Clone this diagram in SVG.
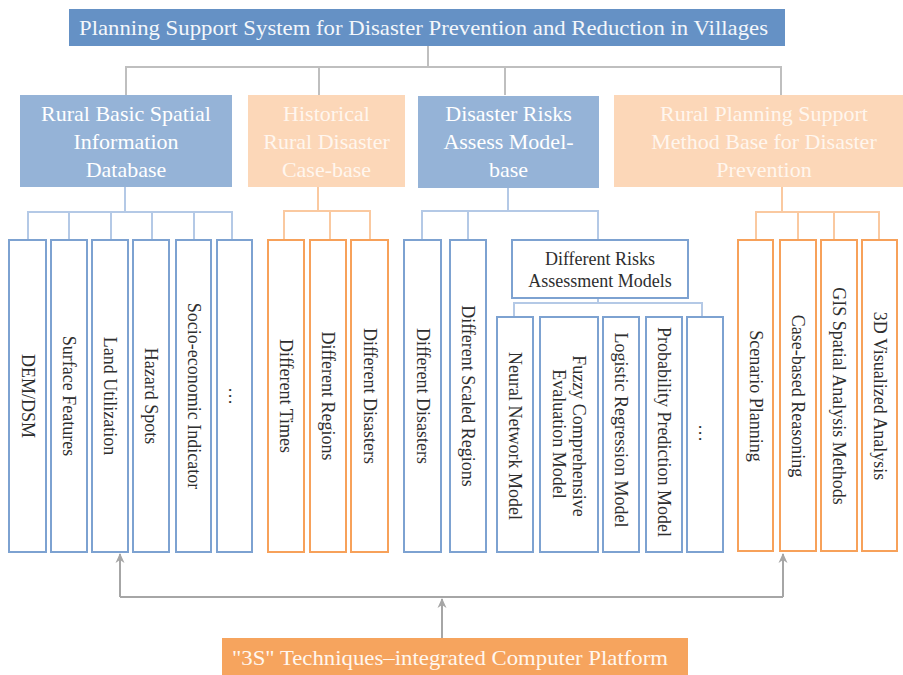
<svg xmlns="http://www.w3.org/2000/svg" width="903" height="675" viewBox="0 0 903 675" font-family="'Liberation Serif', 'Times New Roman', 'DejaVu Serif', serif">
<defs>
<marker id="arr" markerWidth="10" markerHeight="10" viewBox="0 0 10 10" refX="9" refY="5" orient="auto" markerUnits="userSpaceOnUse">
<path d="M0,0.5 L10,5 L0,9.5 L3,5 Z" fill="#A6A6A6"/>
</marker>
</defs>
<style>
.title{font-size:22px;fill:#F4F7FB;}
.cat{font-size:22px;fill:#FFFFFF;text-anchor:middle;}
.catp{font-size:22px;fill:#FFF6EE;text-anchor:middle;}
.leafb{fill:#FFFFFF;stroke:#7DA2D1;stroke-width:2;}
.leafo{fill:#FFFFFF;stroke:#F7A15A;stroke-width:2;}
.lt{font-size:18px;fill:#2E2E2E;text-anchor:middle;dominant-baseline:central;}
.cg{fill:none;stroke:#BFBFBF;stroke-width:2;}
.cb{fill:none;stroke:#B4C9E6;stroke-width:2;}
.co{fill:none;stroke:#FAC9A0;stroke-width:2;}
.ca{fill:none;stroke:#A6A6A6;stroke-width:2;}
</style>
<rect width="903" height="675" fill="#FFFFFF"/>

<g id="connectors">
<path class="cg" d="M428,46 V67 M126,95 V67 H781 V95 M319,67 V95 M505,67 V95"/>
<path class="cb" d="M125,187 V212 M28,240 V212 H232 V240 M69,212 V240 M111,212 V240 M152,212 V240 M194,212 V240"/>
<path class="co" d="M318,187 V211 M284,240 V211 H370 V240 M330,211 V240"/>
<path class="cb" d="M508,188 V211 M422,240 V211 H598 V240 M468,211 V240"/>
<path class="cb" d="M598,298 V303 M514,317 V303 H702 V317"/>
<path class="co" d="M782,187 V212 M756,240 V212 H879 V240 M798,212 V240 M834,212 V240"/>
<path class="ca" d="M442,638 V599" marker-end="url(#arr)"/>
<path class="ca" d="M120,597 H783"/>
<path class="ca" d="M120,597 V554" marker-end="url(#arr)"/>
<path class="ca" d="M783,597 V554" marker-end="url(#arr)"/>
</g>

<g id="title">
<rect x="69" y="9" width="716" height="37" fill="#6591C5"/>
<text class="title" x="79" y="35" textLength="689" lengthAdjust="spacingAndGlyphs">Planning Support System for Disaster Prevention and Reduction in Villages</text>
</g>

<g id="cat1">
<rect x="20" y="95" width="212" height="92" fill="#95B3D7"/>
<text class="cat" x="126" y="121">Rural Basic Spatial</text>
<text class="cat" x="126" y="149">Information</text>
<text class="cat" x="126" y="177">Database</text>
</g>
<g id="cat2">
<rect x="248" y="95" width="157" height="92" fill="#FCD7B8"/>
<text class="catp" x="326.5" y="121">Historical</text>
<text class="catp" x="326.5" y="149">Rural Disaster</text>
<text class="catp" x="326.5" y="177">Case-base</text>
</g>
<g id="cat3">
<rect x="418" y="96" width="181" height="92" fill="#95B3D7"/>
<text class="cat" x="508.5" y="121">Disaster Risks</text>
<text class="cat" x="508.5" y="149">Assess Model-</text>
<text class="cat" x="508.5" y="177">base</text>
</g>
<g id="cat4">
<rect x="614" y="95" width="300" height="92" fill="#FCD7B8"/>
<text class="catp" x="764" y="121">Rural Planning Support</text>
<text class="catp" x="764" y="149">Method Base for Disaster</text>
<text class="catp" x="764" y="177">Prevention</text>
</g>

<g id="leaf-dem"><rect class="leafb" x="9" y="240" width="37" height="312"/><text class="lt" transform="translate(27.5,396) rotate(90)">DEM/DSM</text></g>
<g id="leaf-surface"><rect class="leafb" x="51" y="240" width="36" height="312"/><text class="lt" transform="translate(69,396) rotate(90)">Surface Features</text></g>
<g id="leaf-land"><rect class="leafb" x="92" y="240" width="36" height="312"/><text class="lt" transform="translate(110,396) rotate(90)">Land Utilization</text></g>
<g id="leaf-hazard"><rect class="leafb" x="133" y="240" width="36" height="312"/><text class="lt" transform="translate(151,396) rotate(90)">Hazard Spots</text></g>
<g id="leaf-socio"><rect class="leafb" x="176" y="240" width="35" height="312"/><text class="lt" transform="translate(193.5,396) rotate(90)">Socio-economic Indicator</text></g>
<g id="leaf-etc1"><rect class="leafb" x="217" y="240" width="35" height="312"/><text class="lt" transform="translate(234.5,396) rotate(90)">…</text></g>

<g id="leaf-times"><rect class="leafo" x="268" y="240" width="36" height="312"/><text class="lt" transform="translate(286,396) rotate(90)">Different Times</text></g>
<g id="leaf-regions"><rect class="leafo" x="310" y="240" width="36" height="312"/><text class="lt" transform="translate(328,396) rotate(90)">Different Regions</text></g>
<g id="leaf-disasters"><rect class="leafo" x="351" y="240" width="37" height="312"/><text class="lt" transform="translate(369.5,396) rotate(90)">Different Disasters</text></g>

<g id="leaf-ddisasters"><rect class="leafb" x="404" y="240" width="37" height="312"/><text class="lt" transform="translate(422.5,396) rotate(90)">Different Disasters</text></g>
<g id="leaf-scaled"><rect class="leafb" x="450" y="240" width="36" height="312"/><text class="lt" transform="translate(468,396) rotate(90)">Different Scaled Regions</text></g>
<g id="models">
<rect class="leafb" x="512" y="240" width="176" height="58"/>
<text class="lt" x="600" y="259">Different Risks</text>
<text class="lt" x="600" y="281">Assessment Models</text>
</g>
<g id="leaf-neural"><rect class="leafb" x="497" y="317" width="36" height="235"/><text class="lt" transform="translate(515,436) rotate(90)">Neural Network Model</text></g>
<g id="leaf-fuzzy"><rect class="leafb" x="540" y="317" width="58" height="235"/>
<text class="lt" transform="translate(579,436) rotate(90)">Fuzzy Comprehensive</text>
<text class="lt" transform="translate(559,434) rotate(90)">Evaluation Model</text></g>
<g id="leaf-logistic"><rect class="leafb" x="603" y="317" width="36" height="235"/><text class="lt" transform="translate(621,430) rotate(90)">Logistic Regression Model</text></g>
<g id="leaf-prob"><rect class="leafb" x="646" y="317" width="36" height="235"/><text class="lt" transform="translate(664,432) rotate(90)">Probability Prediction Model</text></g>
<g id="leaf-etc2"><rect class="leafb" x="687" y="317" width="36" height="235"/><text class="lt" transform="translate(705,433) rotate(90)">…</text></g>

<g id="leaf-scenario"><rect class="leafo" x="738" y="240" width="35" height="311"/><text class="lt" transform="translate(755.5,396) rotate(90)">Scenario Planning</text></g>
<g id="leaf-case"><rect class="leafo" x="780" y="240" width="36" height="311"/><text class="lt" transform="translate(798,396) rotate(90)">Case-based Reasoning</text></g>
<g id="leaf-gis"><rect class="leafo" x="821" y="240" width="36" height="311"/><text class="lt" transform="translate(839,396) rotate(90)">GIS Spatial Analysis Methods</text></g>
<g id="leaf-3d"><rect class="leafo" x="862" y="240" width="35" height="311"/><text class="lt" transform="translate(879.5,396) rotate(90)">3D Visualized Analysis</text></g>

<g id="platform">
<rect x="222" y="638" width="466" height="37" fill="#F6A45E"/>
<text x="232" y="665" font-size="22" fill="#FFF7EF" textLength="436" lengthAdjust="spacingAndGlyphs">"3S" Techniques–integrated Computer Platform</text>
</g>
</svg>
